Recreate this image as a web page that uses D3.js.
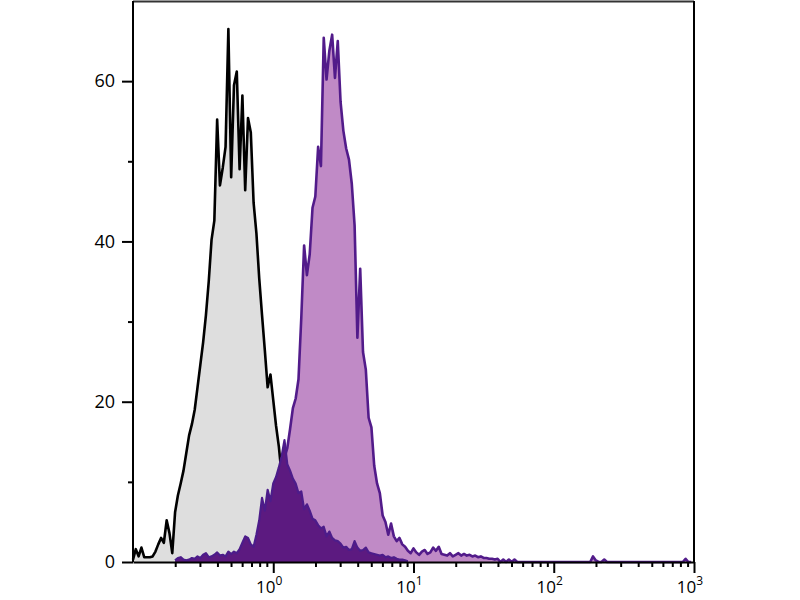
<!DOCTYPE html>
<html>
<head>
<meta charset="utf-8">
<script src="https://cdn.jsdelivr.net/npm/d3@7"></script>
<style>
  html, body { margin: 0; padding: 0; background: #fff; }
  svg { display: block; }
  text { font-family: "Open Sans", "DejaVu Sans", sans-serif; fill: #000; }
</style>
</head>
<body>
<svg id="chart" width="800" height="600"></svg>
<script>
// ---- histogram binning (log10 channel) ----
const binStart = -1.0;   // log10 of first bin
const binStep = 0.02;    // log10 width of each bin

// ---- control (unstained) : black outline, grey fill ----
const controlStart = 0;
const controlCounts = [
  0.3, 1.6, 0.7, 1.8, 0.6, 0.6, 0.6, 0.7, 1.3, 2.2,
  3.0, 2.4, 5.2, 3.6, 1.1, 6.2, 8.3, 9.8, 11.4, 13.6,
  15.8, 17.2, 19.0, 21.8, 24.6, 27.4, 30.8, 35.0, 40.2, 42.6,
  55.2, 47.0, 49.2, 51.8, 66.5, 48.0, 59.5, 61.2, 49.0, 58.2,
  46.4, 55.4, 53.6, 44.8, 41.0, 35.4, 30.8, 26.4, 21.8, 23.4,
  20.2, 17.0, 14.4, 10.8, 7.4, 4.6, 2.6, 1.4, 0.6, 0.2
];

// ---- stained sample : purple outline, light purple fill ----
const stainedStart = 40;
const stainedCounts = [
  1.0, 1.2, 1.4, 1.6, 2.0, 2.6, 3.2, 3.8,
  4.0, 5.0, 7.0, 8.5, 10.0, 11.5, 13.0, 14.2, 16.6, 19.2, 20.4, 22.8,
  30.5, 39.5, 35.8, 38.4, 44.2, 45.6, 51.8, 49.4, 65.4, 60.2,
  63.8, 65.8, 60.4, 65.0, 57.4, 53.8, 51.6, 50.2, 47.2, 42.0,
  28.0, 36.6, 26.2, 24.0, 18.0, 16.8, 12.0, 9.8, 8.6, 5.8,
  5.0, 3.4, 4.8, 3.2, 2.6, 3.0, 2.2, 1.9, 1.4, 1.1,
  1.7, 1.2, 0.9, 1.3, 1.5, 1.0, 1.2, 1.8, 1.4, 1.9,
  1.0, 0.9, 0.8, 1.1, 0.7, 0.9, 1.1, 0.8, 1.0, 0.8,
  0.9, 0.7, 0.8, 0.6, 0.7, 0.5, 0.5, 0.4, 0.4, 0.3,
  0.4, 0, 0.3, 0, 0.3, 0, 0.3, 0, 0, 0,
  0, 0, 0, 0, 0, 0, 0, 0, 0, 0,
  0, 0, 0, 0, 0, 0, 0, 0, 0, 0,
  0, 0, 0, 0, 0.7, 0.2, 0, 0, 0.3, 0,
  0, 0, 0, 0, 0, 0, 0, 0, 0, 0,
  0, 0, 0, 0, 0, 0, 0, 0, 0, 0,
  0, 0, 0, 0, 0, 0, 0, 0.4, 0, 0
];

// ---- second population : dark purple ----
const darkStart = 15;
const darkCounts = [
  0.2, 0.5, 0.6, 0.3, 0.2, 0.3, 0.5, 0.4, 0.7, 0.5,
  0.9, 1.1, 0.6, 0.7, 0.9, 1.2, 0.8, 0.9, 0.7, 1.3,
  1.0, 1.3, 1.1, 1.6, 2.4, 3.2, 3.0, 2.2, 1.9, 3.4,
  5.2, 8.0, 6.4, 9.0, 7.6, 9.8, 10.6, 11.8, 13.2, 15.2,
  12.2, 11.4, 10.4, 9.8, 8.6, 8.8, 6.6, 7.2, 6.4, 5.4,
  5.2, 4.6, 4.2, 4.4, 3.2, 3.8, 3.0, 2.7, 2.6, 2.3,
  1.8, 1.9, 1.5, 1.6, 2.6, 1.8, 1.4, 1.5, 1.8, 1.2,
  1.1, 1.0, 0.9, 0.8, 0.9, 0.6, 0.7, 0.5, 0.6, 0.4,
  0.3, 0.3, 0.2, 0.1
];

// ---- axes ----
const xDomain = [0.1, 1000];
const yDomain = [0, 70];
const xMajorTicks = [1, 10, 100, 1000];
const xMajorExp = ["0", "1", "2", "3"];
const xMinorTicks = [0.2,0.3,0.4,0.5,0.6,0.7,0.8,0.9,
                     2,3,4,5,6,7,8,9,
                     20,30,40,50,60,70,80,90,
                     200,300,400,500,600,700,800,900];
const yMajorTicks = [0, 20, 40, 60];
const yMinorTicks = [10, 30, 50];

// ---- layout ----
const L = 133, R = 694, T = 1, B = 562;
const svg = d3.select("#chart");
const x = d3.scaleLog().domain(xDomain).range([L, R]);
const y = d3.scaleLinear().domain(yDomain).range([B, T]);

function toPoints(start, counts) {
  return counts.map((c, k) => ({ v: Math.pow(10, binStart + binStep * (start + k)), c }));
}
const area = d3.area().x(d => x(d.v)).y0(y(0)).y1(d => y(d.c));
const line = d3.line().x(d => x(d.v)).y(d => y(d.c));

const series = [
  { pts: toPoints(controlStart, controlCounts), fill: "#dedede", stroke: "#000000", w: 2.6 },
  { pts: toPoints(stainedStart, stainedCounts), fill: "#c08ac6", stroke: "#521b8a", w: 2.6 },
  { pts: toPoints(darkStart, darkCounts), fill: "#5c1a80", stroke: "#4c1c8a", w: 2.2 }
];

const plot = svg.append("g");
series.forEach(s => {
  plot.append("path").datum(s.pts).attr("d", area).attr("fill", s.fill).attr("stroke", "none");
  plot.append("path").datum(s.pts).attr("d", line).attr("fill", "none")
    .attr("stroke", s.stroke).attr("stroke-width", s.w).attr("stroke-linejoin", "round");
});

// frame top/right
svg.append("line").attr("x1", L).attr("x2", R).attr("y1", T + 0.5).attr("y2", T + 0.5)
  .attr("stroke", "#333").attr("stroke-width", 2);
svg.append("line").attr("x1", R).attr("x2", R).attr("y1", T).attr("y2", B)
  .attr("stroke", "#000").attr("stroke-width", 2);

// x axis
const gx = svg.append("g").attr("transform", `translate(0,${B})`);
gx.call(d3.axisBottom(x).tickValues(xMajorTicks).tickSize(11).tickSizeOuter(0).tickFormat(() => ""));
gx.append("g").call(d3.axisBottom(x).tickValues(xMinorTicks).tickSize(5).tickSizeOuter(0).tickFormat(() => ""))
  .select(".domain").remove();
gx.selectAll("path, line").attr("stroke", "#000").attr("stroke-width", 2);

const xl = svg.append("g");
xMajorTicks.forEach((v, k) => {
  const t = xl.append("text").attr("x", x(v) - 4).attr("y", 593)
    .attr("text-anchor", "middle").style("font-size", "17px");
  t.append("tspan").text("10");
  t.append("tspan").attr("dy", -8).style("font-size", "12px").text(xMajorExp[k]);
});

// y axis
const gy = svg.append("g").attr("transform", `translate(${L},0)`);
gy.call(d3.axisLeft(y).tickValues(yMajorTicks).tickSize(11).tickSizeOuter(0).tickPadding(7)
  .tickFormat(d3.format("d")));
gy.append("g").call(d3.axisLeft(y).tickValues(yMinorTicks).tickSize(5).tickSizeOuter(0).tickFormat(() => ""))
  .select(".domain").remove();
gy.selectAll("path, line").attr("stroke", "#000").attr("stroke-width", 2);
gy.selectAll("text").style("font-size", "18px").style("font-family", '"Open Sans", "DejaVu Sans", sans-serif');
gy.select(".domain").attr("d", `M0,${T}V${B}`);
</script>
</body>
</html>
